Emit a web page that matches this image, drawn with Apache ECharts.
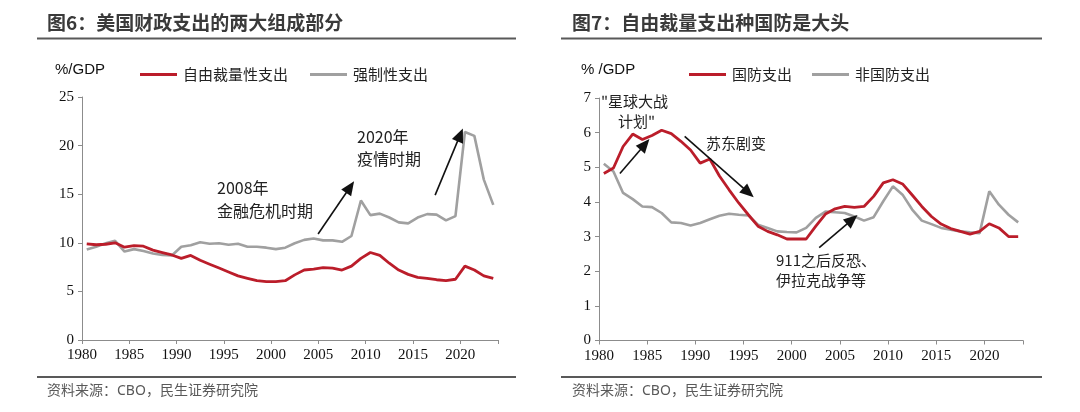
<!DOCTYPE html>
<html><head><meta charset="utf-8">
<script src="https://cdn.jsdelivr.net/npm/echarts@6/dist/echarts.min.js"></script>
<style>html,body{margin:0;padding:0;background:#fff}#c{width:1080px;height:412px}</style>
</head><body><div id="c"></div>
<script>
// ---- data ----
const years = [];
for (let y = 1980; y <= 2023; y++) years.push(y);
const discretionary = [9.9,9.8,9.85,10.0,9.55,9.7,9.65,9.25,9.0,8.75,8.4,8.7,8.2,7.8,7.4,7.0,6.6,6.35,6.1,6.0,6.0,6.1,6.7,7.2,7.3,7.45,7.4,7.2,7.6,8.4,9.0,8.7,7.9,7.2,6.75,6.45,6.35,6.2,6.1,6.25,7.6,7.2,6.6,6.35];
const mandatory = [9.3,9.6,9.95,10.2,9.1,9.35,9.15,8.9,8.75,8.7,9.6,9.75,10.05,9.9,9.95,9.8,9.9,9.6,9.6,9.5,9.35,9.5,9.95,10.3,10.45,10.25,10.25,10.1,10.7,14.35,12.85,13.0,12.6,12.1,12.0,12.6,12.95,12.9,12.3,12.75,21.4,21.0,16.5,13.9];
const defense = [4.82,4.98,5.6,5.96,5.8,5.92,6.07,5.97,5.75,5.5,5.12,5.24,4.75,4.35,3.97,3.63,3.3,3.15,3.05,2.93,2.93,2.93,3.3,3.65,3.8,3.87,3.84,3.87,4.16,4.55,4.64,4.52,4.2,3.87,3.58,3.36,3.23,3.15,3.07,3.15,3.37,3.25,3.0,3.0];
const nondefense = [5.1,4.88,4.26,4.08,3.87,3.85,3.68,3.41,3.39,3.32,3.39,3.5,3.6,3.66,3.63,3.61,3.34,3.25,3.15,3.13,3.12,3.25,3.54,3.72,3.7,3.68,3.58,3.46,3.56,4.02,4.45,4.21,3.78,3.46,3.36,3.25,3.2,3.15,3.12,3.1,4.31,3.92,3.63,3.41];
const leftNames = ['自由裁量性支出', '强制性支出'];
const rightNames = ['国防支出', '非国防支出'];
const titleLeft = '图6：美国财政支出的两大组成部分';
const titleRight = '图7：自由裁量支出种国防是大头';
const source = '资料来源：CBO，民生证券研究院';
const leftYTicks = {min: 0, max: 25, interval: 5};
const rightYTicks = {min: 0, max: 7, interval: 1};
// arrows in data coordinates [fromX, fromY, toX, toY]
const leftArrows = [[2004.97, 10.9, 2008.36, 15.74], [2017.35, 14.9, 2020.0, 21.1]];
const rightArrows = [[1982.17, 4.82, 1984.76, 5.66], [1988.89, 5.89, 1995.51, 4.27], [2002.85, 2.68, 2006.27, 3.49]];

// ---- styles ----
const RED = '#BB1D2A', GREY = '#A0A0A0';
const CJK = '"Noto Sans CJK SC", sans-serif';
const SANS = '"Noto Sans", "Noto Sans CJK SC", sans-serif';
const SERIF = '"Liberation Serif", "Times New Roman", serif';
const pair = arr => arr.map((v, i) => [years[i] + 0.5, v]);

function xAxis(gi) {
  return {
    type: 'value', gridIndex: gi, min: 1980, max: 2024, interval: 5,
    axisLine: {lineStyle: {color: '#8c8c8c', width: 1}},
    axisTick: {show: true, inside: false, length: 4, lineStyle: {color: '#8c8c8c'}},
    axisLabel: {fontFamily: SERIF, fontSize: 15, color: '#111', margin: 8,
      formatter: v => (v % 5 === 0 && v <= 2020) ? String(v) : ''},
    splitLine: {show: false}
  };
}
function yAxis(gi, t) {
  return {
    type: 'value', gridIndex: gi, min: t.min, max: t.max, interval: t.interval,
    axisLine: {show: true, lineStyle: {color: '#8c8c8c', width: 1}},
    axisTick: {show: true, inside: false, length: 4, lineStyle: {color: '#8c8c8c'}},
    axisLabel: {fontFamily: SERIF, fontSize: 15, color: '#111', margin: 8},
    splitLine: {show: false}
  };
}
function arrowLine(arrs) {
  return {
    silent: true, symbol: ['none', 'triangle'], symbolSize: [12, 14],
    lineStyle: {color: '#111', width: 1.6, type: 'solid'},
    label: {show: false},
    data: arrs.map(a => [{coord: [a[0], a[1]]}, {coord: [a[2], a[3]]}])
  };
}
function txt(x, y, s, size, opts) {
  return {type: 'text', left: x, top: y, style: {text: s, font: (opts && opts.font) || ('normal ' + size + 'px ' + CJK), fill: (opts && opts.fill) || '#222'}};
}
function hline(x1, x2, y, w, c) {
  return {type: 'line', shape: {x1: x1, y1: y, x2: x2, y2: y}, style: {stroke: c, lineWidth: w}};
}

const chart = echarts.init(document.getElementById('c'));
chart.setOption({
  animation: false,
  backgroundColor: '#fff',
  grid: [
    {left: 82, top: 97, width: 416, height: 243, containLabel: false},
    {left: 599, top: 98, width: 424, height: 242.5, containLabel: false}
  ],
  xAxis: [xAxis(0), xAxis(1)],
  yAxis: [yAxis(0, leftYTicks), yAxis(1, rightYTicks)],
  legend: [
    {left: 135, top: 62, itemWidth: 37, itemHeight: 3, itemGap: 22, icon: 'rect',
     textStyle: {fontFamily: CJK, fontSize: 15, color: '#222', padding: [0, 0, 0, 1]}, data: leftNames},
    {left: 684, top: 62, itemWidth: 37, itemHeight: 3, itemGap: 20, icon: 'rect',
     textStyle: {fontFamily: CJK, fontSize: 15, color: '#222', padding: [0, 0, 0, 1]}, data: rightNames}
  ],
  series: [
    {name: leftNames[1], type: 'line', xAxisIndex: 0, yAxisIndex: 0, data: pair(mandatory), showSymbol: false,
     lineStyle: {color: GREY, width: 2.6}, itemStyle: {color: GREY}, z: 2},
    {name: leftNames[0], type: 'line', xAxisIndex: 0, yAxisIndex: 0, data: pair(discretionary), showSymbol: false,
     lineStyle: {color: RED, width: 2.8}, itemStyle: {color: RED}, z: 3, markLine: arrowLine(leftArrows)},
    {name: rightNames[1], type: 'line', xAxisIndex: 1, yAxisIndex: 1, data: pair(nondefense), showSymbol: false,
     lineStyle: {color: GREY, width: 2.6}, itemStyle: {color: GREY}, z: 2},
    {name: rightNames[0], type: 'line', xAxisIndex: 1, yAxisIndex: 1, data: pair(defense), showSymbol: false,
     lineStyle: {color: RED, width: 2.8}, itemStyle: {color: RED}, z: 3, markLine: arrowLine(rightArrows)}
  ],
  graphic: [
    txt(47, 13, titleLeft, 19, {font: 'bold 19px ' + CJK, fill: '#3a3a3a'}),
    txt(572, 13, titleRight, 19, {font: 'bold 19px ' + CJK, fill: '#3a3a3a'}),
    hline(37, 516, 38.5, 2, '#595959'),
    hline(561, 1042, 38.5, 2, '#595959'),
    hline(37, 516, 377, 2, '#595959'),
    hline(561, 1042, 377, 2, '#595959'),
    txt(47, 384, source, 14, {font: 'normal 14px ' + SANS, fill: '#595959'}),
    txt(572, 384, source, 14, {font: 'normal 14px ' + SANS, fill: '#595959'}),
    txt(55, 62, '%/GDP', 15, {font: 'normal 15px "Liberation Sans", Arial, sans-serif', fill: '#111'}),
    txt(581, 62, '% /GDP', 15, {font: 'normal 15px "Liberation Sans", Arial, sans-serif', fill: '#111'}),
    txt(217, 180, '2008年', 16),
    txt(217, 203, '金融危机时期', 16),
    txt(357, 129, '2020年', 16),
    txt(357, 151, '疫情时期', 16),
    txt(601, 94, '"星球大战', 15),
    txt(618, 114, '计划"', 15),
    txt(706, 136, '苏东剧变', 15),
    txt(776, 253, '911之后反恐、', 15),
    txt(776, 273, '伊拉克战争等', 15)
  ]
});
</script></body></html>
